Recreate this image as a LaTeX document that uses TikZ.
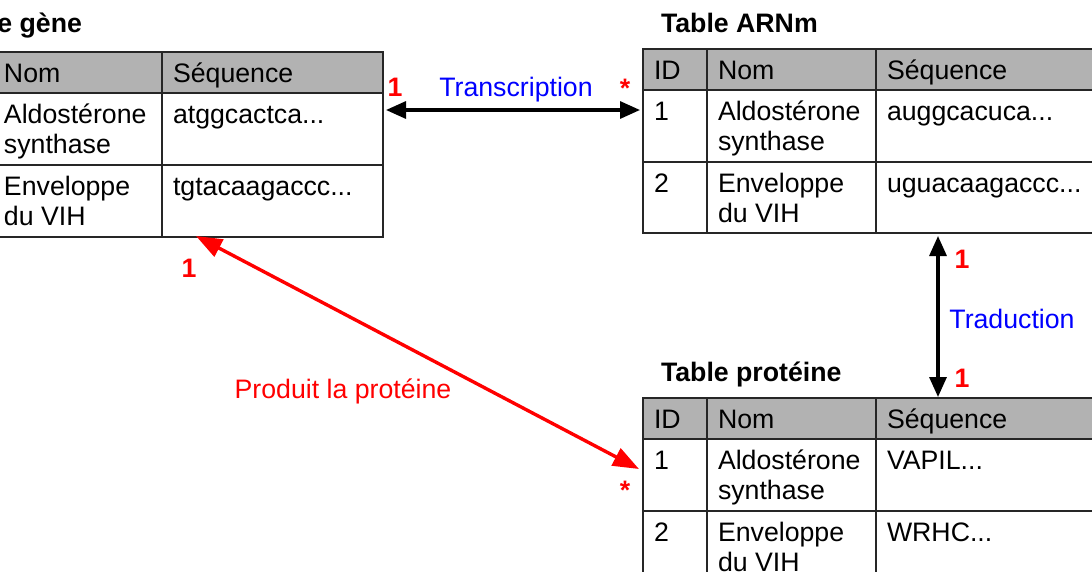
\documentclass[tikz,border=0pt]{standalone}
\usepackage{fontspec}
\setmainfont{Liberation Sans}
\usetikzlibrary{arrows.meta}
\begin{document}
\begin{tikzpicture}[x=1pt,y=-1pt,
  every node/.style={inner sep=0pt,outer sep=0pt,font=\fontsize{26.7}{30.5}\selectfont},
  cell/.style={anchor=base west},
  title/.style={anchor=base west,font=\fontsize{26.7}{30.5}\selectfont\bfseries},
  grid/.style={draw=black!85,line width=1.3pt},
  card/.style={text=red,font=\fontsize{26.7}{30.5}\selectfont\bfseries},
  rel/.style={text=blue},
  bi/.style={line width=3.2pt,{Triangle[length=20pt,width=17pt]}-{Triangle[length=20pt,width=17pt]}},
  redbi/.style={line width=3.4pt,red,{Triangle[length=26pt,width=19pt]}-{Triangle[length=26pt,width=19pt]}}]
\useasboundingbox (0,0) rectangle (1092,571);
\clip (0,0) rectangle (1092,571);
\fill[white] (0,0) rectangle (1092,571);

% ---------- Table gene ----------
\node[title,anchor=base east] (tg) at (82,32) {Table gène};
\fill[black!30] (-7,52) rectangle (383,93);
\draw[grid] (-7,52) rectangle (383,237);
\draw[grid] (-7,93) -- (383,93) (-7,165) -- (383,165) (162,52) -- (162,237);
\node[cell] (g1) at (4,82) {Nom};
\node[cell] (g2) at (173,82) {Séquence};
\node[cell] (g3) at (4,123) {Aldostérone};
\node[cell] (g4) at (4,153) {synthase};
\node[cell] (g5) at (173,123) {atggcactca...};
\node[cell] (g6) at (4,195) {Enveloppe};
\node[cell] (g7) at (4,225) {du VIH};
\node[cell] (g8) at (173,195) {tgtacaagaccc...};

% ---------- Table ARNm ----------
\node[title] (ta) at (661,32) {Table ARNm};
\fill[black!30] (643,49) rectangle (1100,90);
\draw[grid] (643,49) rectangle (1100,233);
\draw[grid] (643,90) -- (1100,90) (643,162) -- (1100,162) (707,49) -- (707,233) (876,49) -- (876,233);
\node[cell] (a1) at (654,79) {ID};
\node[cell] (a2) at (718,79) {Nom};
\node[cell] (a3) at (887,79) {Séquence};
\node[cell] (a4) at (654,120) {1};
\node[cell] (a5) at (718,120) {Aldostérone};
\node[cell] (a6) at (718,150) {synthase};
\node[cell] (a7) at (887,120) {auggcacuca...};
\node[cell] (a8) at (654,192) {2};
\node[cell] (a9) at (718,192) {Enveloppe};
\node[cell] (a10) at (718,222) {du VIH};
\node[cell] (a11) at (887,192) {uguacaagaccc...};

% ---------- Table proteine ----------
\node[title] (tp) at (661,381) {Table protéine};
\fill[black!30] (643,398) rectangle (1100,439);
\draw[grid] (643,398) rectangle (1100,590);
\draw[grid] (643,439) -- (1100,439) (643,511) -- (1100,511) (707,398) -- (707,590) (876,398) -- (876,590);
\node[cell] (p1) at (654,428) {ID};
\node[cell] (p2) at (718,428) {Nom};
\node[cell] (p3) at (887,428) {Séquence};
\node[cell] (p4) at (654,469) {1};
\node[cell] (p5) at (718,469) {Aldostérone};
\node[cell] (p6) at (718,499) {synthase};
\node[cell] (p7) at (887,469) {VAPIL...};
\node[cell] (p8) at (654,541) {2};
\node[cell] (p9) at (718,541) {Enveloppe};
\node[cell] (p10) at (718,571) {du VIH};
\node[cell] (p11) at (887,541) {WRHC...};

% ---------- connectors ----------
\coordinate (gR) at (386,110);
\coordinate (aL) at (640,110);
\coordinate (aB) at (938,236);
\coordinate (pT) at (938,397);
\coordinate (gB) at (196,236);
\coordinate (pL) at (639,469);
\draw[bi] (gR) -- (aL);
\draw[bi] (aB) -- (pT);
\draw[redbi] (gB) -- (pL);

% ---------- labels ----------
\node[card] (c1) at (395,87) {1};
\node[rel,anchor=base] (lt) at (516,96) {Transcription};
\node[card] (c2) at (625,88) {*};
\node[card,anchor=base] (c3) at (962,268) {1};
\node[rel,anchor=base] (ltr) at (1012,328) {Traduction};
\node[card,anchor=base] (c4) at (962,387) {1};
\node[card,anchor=base] (c5) at (189,277) {1};
\node[anchor=base,text=red] (lp) at (343,398) {Produit la protéine};
\node[card] (c6) at (625,490) {*};
\end{tikzpicture}
\end{document}
